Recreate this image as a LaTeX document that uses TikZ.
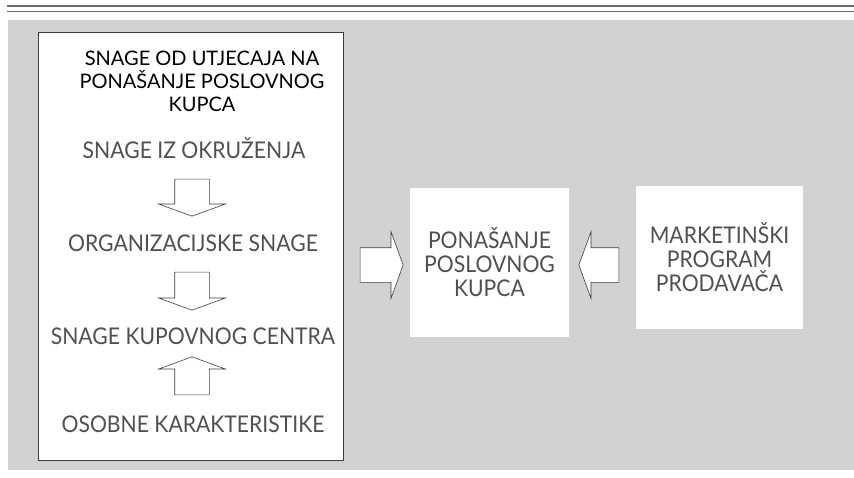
\documentclass[tikz,border=0pt]{standalone}
\usepackage{fontspec}
\setmainfont{Lato}
\newfontfamily\narrowfont{Lato}[FakeStretch=0.92]
\usetikzlibrary{shapes.arrows,positioning}
\definecolor{panel}{HTML}{D1D2D4}
\definecolor{ink}{HTML}{3C3C3C}
\definecolor{rulegray}{HTML}{6E6E6E}
\begin{document}
\begin{tikzpicture}[x=1pt,y=-1pt,
 caption/.style={font=\narrowfont\fontsize{23}{24}\selectfont,text=ink!90,align=center,inner sep=0pt},
 heading/.style={font=\fontsize{20}{23}\selectfont,text=black,align=center,inner sep=0pt},
 flow/.style={single arrow,draw=ink,fill=white,line width=0.6pt,inner xsep=0pt,inner ysep=17pt,
 single arrow head extend=16pt,single arrow tip angle=140}]
\useasboundingbox (0,0) rectangle (854,477);
\draw[rulegray,line width=1.4pt] (7,6)--(854,6) (7,11.5)--(854,11.5);
\fill[panel] (8,20) rectangle (854,470);
% left panel with the forces
\node[draw=ink,fill=white,line width=0.6pt,minimum width=305pt,minimum height=428pt] (forces) at (190.5,246) {};
\node[heading] (title) at (202,81) {SNAGE OD UTJECAJA NA\\PONAŠANJE POSLOVNOG\\KUPCA};
\node[caption] (env) at (194,148) {SNAGE IZ OKRUŽENJA};
\node[caption] (org) at (193,243) {ORGANIZACIJSKE SNAGE};
\node[caption] (centre) at (193,336) {SNAGE KUPOVNOG CENTRA};
\node[caption] (person) at (193,424) {OSOBNE KARAKTERISTIKE};
\node[flow,rotate=-90,minimum height=37pt] (a1) at (192,194.5) {};
\node[flow,rotate=-90,minimum height=38pt] (a2) at (192,288) {};
\node[flow,rotate=90,minimum height=38pt] (a3) at (192,379) {};
% buyer and seller
\node[fill=white,minimum width=159pt,minimum height=149pt] (buyer) at (489.5,262.5) {};
\node[caption] at (buyer) {PONAŠANJE\\POSLOVNOG\\KUPCA};
\node[fill=white,minimum width=167pt,minimum height=143pt] (seller) at (719.5,257.5) {};
\node[caption] at (seller) {MARKETINŠKI\\PROGRAM\\PRODAVAČA};
\node[flow,minimum height=43pt] (a4) at (378.5,265) {};
\node[flow,rotate=180,minimum height=40pt] (a5) at (602,265) {};
\end{tikzpicture}
\end{document}
